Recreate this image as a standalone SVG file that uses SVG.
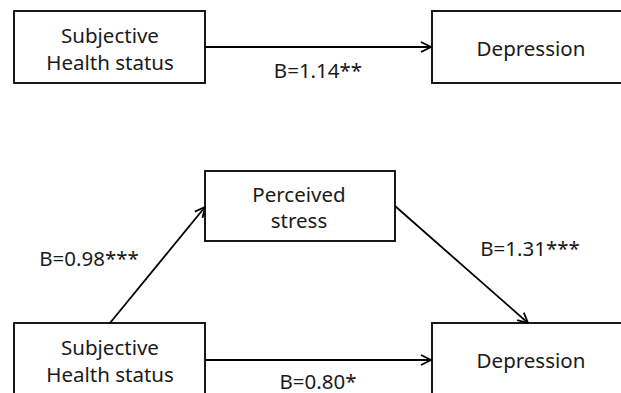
<svg xmlns="http://www.w3.org/2000/svg" width="621" height="393" viewBox="0 0 621 393">
<style>
.box{fill:#fff;stroke:#000;stroke-width:1.8}
.t{font-family:"Noto Sans","DejaVu Sans",sans-serif;font-size:20.5px;fill:#1a1a1a;text-anchor:middle}
.c{stroke:#000;stroke-width:1.8;fill:none}
</style>
<defs>
<marker id="ah" viewBox="0 0 12 12" refX="11" refY="6" markerWidth="12" markerHeight="12" markerUnits="userSpaceOnUse" orient="auto">
<path d="M1,1 L11,6 L1,11" fill="none" stroke="#000" stroke-width="1.8"/>
</marker>
</defs>
<rect width="621" height="393" fill="#fff"/>
<g id="top-health">
<rect class="box" x="14" y="11" width="191" height="72"/>
<text class="t" x="110" y="43">Subjective</text>
<text class="t" x="110" y="70">Health status</text>
</g>
<g id="top-depression">
<rect class="box" x="432" y="11" width="200" height="72"/>
<text class="t" x="531" y="56">Depression</text>
</g>
<g id="stress">
<rect class="box" x="205" y="171" width="190" height="70"/>
<text class="t" x="299" y="202">Perceived</text>
<text class="t" x="299" y="228">stress</text>
</g>
<g id="bottom-health">
<rect class="box" x="14" y="323" width="191" height="80"/>
<text class="t" x="110" y="355">Subjective</text>
<text class="t" x="110" y="382">Health status</text>
</g>
<g id="bottom-depression">
<rect class="box" x="432" y="323" width="200" height="80"/>
<text class="t" x="531" y="368">Depression</text>
</g>
<g id="connectors">
<line class="c" x1="205" y1="47" x2="431" y2="47" marker-end="url(#ah)"/>
<line class="c" x1="110" y1="323" x2="205" y2="207" marker-end="url(#ah)"/>
<line class="c" x1="395" y1="206" x2="528" y2="323" marker-end="url(#ah)"/>
<line class="c" x1="205" y1="360" x2="431" y2="360" marker-end="url(#ah)"/>
<text class="t" x="318" y="78">B=1.14**</text>
<text class="t" x="89" y="266">B=0.98***</text>
<text class="t" x="530" y="256">B=1.31***</text>
<text class="t" x="318" y="389">B=0.80*</text>
</g>
</svg>
